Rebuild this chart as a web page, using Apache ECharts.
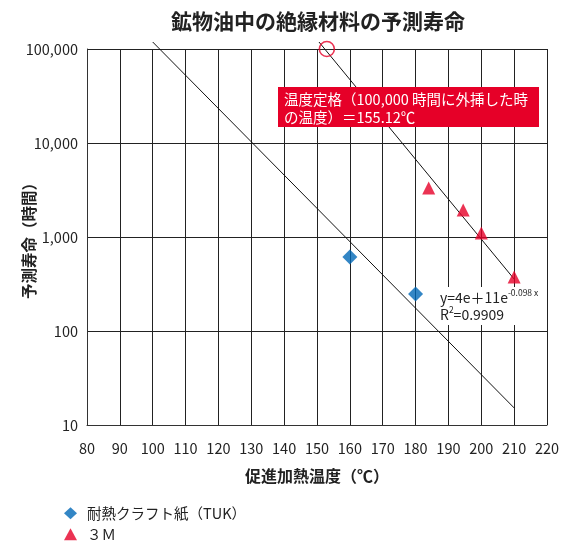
<!DOCTYPE html>
<html>
<head>
<meta charset="utf-8">
<script src="https://cdn.jsdelivr.net/npm/echarts@6/dist/echarts.min.js"></script>
<style>
  html, body { margin: 0; padding: 0; background: #fff; }
  #chart { width: 575px; height: 541px; }
</style>
</head>
<body>
<div id="chart"></div>
<script>
// Accelerated aging data: temperature (°C) vs predicted life (hours)
const tukTemps = [160, 180];
const tukHours = [613, 248];
const m3Temps = [184, 194.5, 200, 210];
const m3Hours = [3320, 1940, 1100, 375];

// Fitted trend lines (end points)
const tukTrendTemps = [100, 210];
const tukTrendHours = [118700, 15.2];
const m3TrendTemps = [150.6, 210];
const m3TrendHours = [118700, 357];

// Rated temperature marker (100,000 h)
const ratedPoint = [153, 100000];

const xTicks = { min: 80, max: 220, step: 10 };
const yRange = { min: 10, max: 100000 };

const FONT = '"Noto Sans CJK JP", "Noto Sans", sans-serif';
const RED = '#e60028';
const BLUE = '#0068b7';

function pairs(xs, ys) { return xs.map((x, i) => [x, ys[i]]); }

const legendText = { fontSize: 14.5, color: '#222', fontFamily: FONT, padding: [0, 0, 0, 5] };

const chart = echarts.init(document.getElementById('chart'));
chart.setOption({
  animation: false,
  textStyle: { fontFamily: FONT },
  title: {
    text: '鉱物油中の絶縁材料の予測寿命',
    left: 313, top: 6, textAlign: 'center',
    textStyle: { fontSize: 21, fontWeight: 'bold', color: '#222', fontFamily: FONT }
  },
  grid: { left: 87, right: 28, top: 49, bottom: 116, outerBoundsMode: 'none', containLabel: false },
  legend: [
    {
      left: 64, top: 506, padding: 0, itemWidth: 13, itemHeight: 12, textStyle: legendText,
      data: [{ name: '耐熱クラフト紙（TUK）', icon: 'diamond' }]
    },
    {
      left: 64, top: 527, padding: 0, itemWidth: 13, itemHeight: 12, textStyle: legendText,
      data: [{ name: '３Ｍ', icon: 'triangle' }]
    }
  ],
  xAxis: {
    type: 'value', min: xTicks.min, max: xTicks.max, interval: xTicks.step,
    name: '促進加熱温度（℃）', nameLocation: 'middle', nameGap: 43, nameMoveOverlap: false,
    nameTextStyle: { fontSize: 16, fontWeight: 'bold', color: '#222', fontFamily: FONT },
    axisLine: { lineStyle: { color: '#333', width: 1 } },
    axisTick: { show: false },
    axisLabel: { fontSize: 14.5, color: '#222', margin: 16, fontFamily: FONT },
    splitLine: { show: true, lineStyle: { color: '#222', width: 1 } }
  },
  yAxis: {
    type: 'log', logBase: 10, min: yRange.min, max: yRange.max,
    name: '予測寿命（時間）', nameLocation: 'middle', nameGap: 50, nameRotate: 90, nameMoveOverlap: false,
    nameTextStyle: { fontSize: 15.5, fontWeight: 'bold', color: '#222', fontFamily: FONT },
    axisLine: { show: true, lineStyle: { color: '#333', width: 1 } },
    axisTick: { show: false },
    axisLabel: {
      fontSize: 14.5, color: '#222', margin: 9, fontFamily: FONT,
      formatter: v => Number(v).toLocaleString('en-US')
    },
    splitLine: { show: true, lineStyle: { color: '#222', width: 1 } }
  },
  series: [
    {
      name: 'TUK trend', type: 'line', silent: true, clip: false, symbol: 'none',
      lineStyle: { color: '#111', width: 1 },
      data: pairs(tukTrendTemps, tukTrendHours), z: 3
    },
    {
      name: '3M trend', type: 'line', silent: true, clip: false, symbol: 'none',
      lineStyle: { color: '#111', width: 1 },
      data: pairs(m3TrendTemps, m3TrendHours), z: 3
    },
    {
      name: '耐熱クラフト紙（TUK）', type: 'scatter', symbol: 'diamond', symbolSize: 15,
      itemStyle: { color: BLUE }, data: pairs(tukTemps, tukHours), z: 5
    },
    {
      name: '３Ｍ', type: 'scatter', symbol: 'triangle', symbolSize: 13,
      itemStyle: { color: RED }, data: pairs(m3Temps, m3Hours), z: 5
    },
    {
      name: 'rated', type: 'scatter', symbol: 'circle', symbolSize: 15, clip: false, silent: true,
      itemStyle: { color: 'rgba(0,0,0,0)', borderColor: RED, borderWidth: 1.6 },
      data: [ratedPoint], z: 6
    }
  ],
  graphic: [
    {
      type: 'group', left: 278, top: 87, z: 100, zlevel: 1,
      children: [
        { type: 'rect', z: 100, shape: { x: 0, y: 0, width: 261, height: 40 }, style: { fill: RED } },
        {
          type: 'text', z: 101, x: 6, y: 3,
          style: {
            text: '温度定格（100,000 時間に外挿した時\nの温度）＝155.12℃',
            fill: '#fff', fontSize: 14.5, lineHeight: 18, fontFamily: FONT
          }
        }
      ]
    },
    {
      type: 'group', left: 436, top: 287, z: 100, zlevel: 1,
      children: [
        { type: 'rect', z: 100, shape: { x: 0, y: 0, width: 110, height: 38 }, style: { fill: '#fff' } },
        {
          type: 'text', z: 101, x: 4, y: 2,
          style: {
            text: '{a|y=4e＋11e}{s|-0.098 x}\n{a|R}{s|2}{a|=0.9909}',
            fill: '#222', fontFamily: FONT,
            rich: {
              a: { fontSize: 14, lineHeight: 17, fill: '#222', fontFamily: FONT },
              s: { fontSize: 8.5, lineHeight: 17, verticalAlign: 'top', fill: '#222', fontFamily: FONT, padding: [0, 0, 6, 0] }
            }
          }
        }
      ]
    }
  ]
});
</script>
</body>
</html>
